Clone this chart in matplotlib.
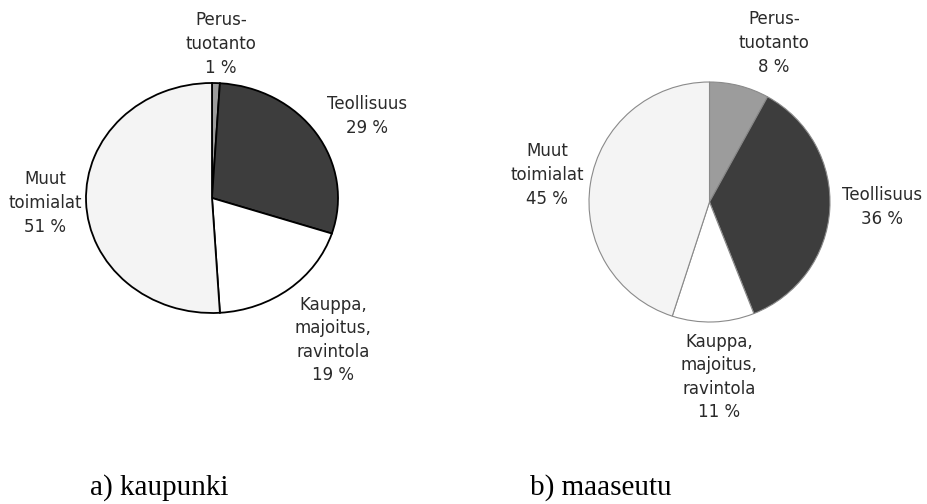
import matplotlib
matplotlib.use("Agg")
import matplotlib.pyplot as plt

W, H = 928, 504

categories = ["Perus-\ntuotanto", "Teollisuus", "Kauppa,\nmajoitus,\nravintola", "Muut\ntoimialat"]
kaupunki = [1, 29, 19, 51]
maaseutu = [8, 36, 11, 45]
captions = ["a) kaupunki", "b) maaseutu"]

colors = ["#9c9c9c", "#3d3d3d", "#ffffff", "#f4f4f4"]

fig = plt.figure(figsize=(W / 100, H / 100), dpi=100)

def px_axes(x0, y0, x1, y1):
    # pixel box (top-left origin) -> figure fraction axes
    return fig.add_axes([x0 / W, 1 - y1 / H, (x1 - x0) / W, (y1 - y0) / H])

def draw_pie(ax, values, edge, lw):
    ax.pie(values, colors=colors, startangle=90, counterclock=False,
           wedgeprops=dict(edgecolor=edge, linewidth=lw))
    ax.set_aspect("auto")
    ax.set_xlim(-1, 1)
    ax.set_ylim(-1, 1)
    ax.axis("off")

ax1 = px_axes(86, 83, 338, 313)
draw_pie(ax1, kaupunki, "black", 1.3)
ax2 = px_axes(589, 82, 830, 322)
draw_pie(ax2, maaseutu, "#8a8a8a", 0.8)

lab_font = dict(family="DejaVu Sans", fontsize=12, color="#2a2a2a", ha="center",
                va="center", linespacing=1.4)

# label centres in pixels
pos1 = [(221, 44), (367, 116), (333, 340), (45, 203)]
pos2 = [(774, 43), (882, 207), (719, 377), (547, 175)]

for vals, pos in [(kaupunki, pos1), (maaseutu, pos2)]:
    for name, v, (px, py) in zip(categories, vals, pos):
        fig.text(px / W, 1 - py / H, f"{name}\n{v} %", **lab_font)

fig.text(90 / W, 1 - 495 / H, captions[0], family="Liberation Serif",
         fontsize=21, ha="left", va="baseline")
fig.text(530 / W, 1 - 495 / H, captions[1], family="Liberation Serif",
         fontsize=21, ha="left", va="baseline")

fig.savefig("out.png", dpi=100)
